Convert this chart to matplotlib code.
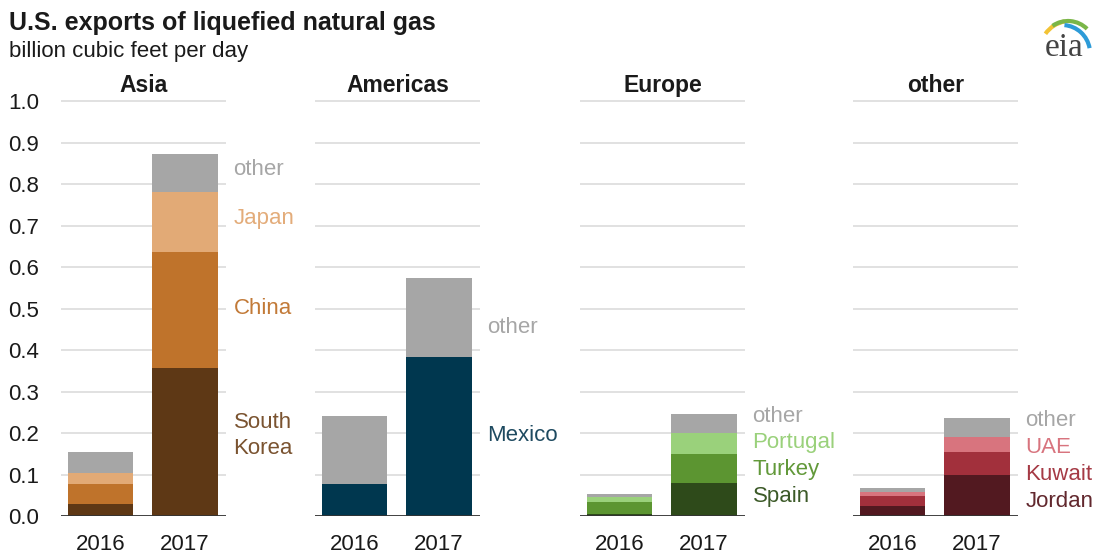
import matplotlib
matplotlib.use('Agg')
import matplotlib.pyplot as plt
from matplotlib.patches import Arc

plt.rcParams['font.family'] = ['Liberation Sans', 'DejaVu Sans']

years = ['2016', '2017']
regions = ['Asia', 'Americas', 'Europe', 'other']

# stacked segments, bottom to top, per region (2016, 2017)
asia_names = ['South\nKorea', 'China', 'Japan', 'other']
asia_vals = [[0.030, 0.357], [0.046, 0.279], [0.028, 0.145], [0.050, 0.092]]
asia_cols = ['#5e3815', '#bf732b', '#e2aa76', '#a6a6a6']
asia_txt = ['#7a5330', '#c27a38', '#e3ac7a', '#a6a6a6']

amer_names = ['Mexico', 'other']
amer_vals = [[0.076, 0.384], [0.166, 0.189]]
amer_cols = ['#00374f', '#a6a6a6']
amer_txt = ['#1e4a60', '#a6a6a6']

euro_names = ['Spain', 'Turkey', 'Portugal', 'other']
euro_vals = [[0.006, 0.080], [0.028, 0.069], [0.011, 0.050], [0.008, 0.047]]
euro_cols = ['#2e4a1a', '#5c9531', '#9ad17b', '#a6a6a6']
euro_txt = ['#3c5a28', '#62993a', '#9ad17b', '#a6a6a6']

oth_names = ['Jordan', 'Kuwait', 'UAE', 'other']
oth_vals = [[0.025, 0.099], [0.023, 0.056], [0.011, 0.036], [0.008, 0.046]]
oth_cols = ['#521920', '#a2303c', '#d8747e', '#a6a6a6']
oth_txt = ['#62282e', '#a53a45', '#d8747e', '#a6a6a6']

# label heights (centre of text) for each series label
asia_lab_y = [0.195, 0.50, 0.718, 0.834]
amer_lab_y = [0.193, 0.455]
euro_lab_y = [0.046, 0.111, 0.176, 0.241]
oth_lab_y = [0.036, 0.101, 0.166, 0.229]

panels = [
    (asia_names, asia_vals, asia_cols, asia_txt, asia_lab_y, 61),
    (amer_names, amer_vals, amer_cols, amer_txt, amer_lab_y, 315),
    (euro_names, euro_vals, euro_cols, euro_txt, euro_lab_y, 580),
    (oth_names, oth_vals, oth_cols, oth_txt, oth_lab_y, 853),
]

W, H = 1098, 553
fig = plt.figure(figsize=(W / 100, H / 100), dpi=100)

for i, (names, vals, cols, tcols, lab_y, left) in enumerate(panels):
    ax = fig.add_axes([left / W, (H - 516) / H, 165 / W, 417 / H])
    x = [0, 1]
    bottom = [0, 0]
    for v, c in zip(vals, cols):
        ax.bar(x, v, bottom=bottom, width=0.78, color=c, linewidth=0, zorder=2)
        bottom = [b + vv for b, vv in zip(bottom, v)]
    for name, c, ly in zip(names, tcols, lab_y):
        ax.text(1.58, ly, name, color=c, fontsize=16, va='center', ha='left',
                linespacing=1.32, clip_on=False)
    ax.set_xlim(-0.47, 1.49)
    ax.set_ylim(0, 1.005)
    ax.set_yticks([k / 10 for k in range(11)])
    ax.grid(axis='y', color='#dcdcdc', linewidth=1.2, zorder=0)
    ax.axhline(0, color='#333333', linewidth=2, zorder=3)
    for s in ax.spines.values():
        s.set_visible(False)
    ax.set_xticks(x)
    ax.set_xticklabels(years, fontsize=16, color='#1a1a1a')
    ax.tick_params(length=0, pad=13)
    if i == 0:
        ax.set_yticklabels(['%.1f' % (k / 10) for k in range(11)], fontsize=16,
                           color='#1a1a1a')
        ax.tick_params(axis='y', pad=16)
    else:
        ax.set_yticklabels([])
    ax.set_title(regions[i], fontsize=16.5, fontweight='bold', pad=5,
                 color='#1a1a1a')

fig.text(9 / W, 1 - 23 / H, 'U.S. exports of liquefied natural gas', fontsize=18,
         fontweight='bold', va='center', ha='left', color='#1a1a1a')
fig.text(9 / W, 1 - 52 / H, 'billion cubic feet per day', fontsize=16,
         va='center', ha='left', color='#1a1a1a')

# eia logo
lax = fig.add_axes([1030 / W, 1 - 65 / H, 68 / W, 60 / H])
lax.set_xlim(0, 68)
lax.set_ylim(0, 60)
lax.axis('off')
lax.text(34, 17, 'eia', family=['Liberation Serif', 'DejaVu Serif'], fontsize=24,
         color='#444444', ha='center', va='center')
lax.add_patch(Arc((40, 14), 60, 60, theta1=100, theta2=145, color='#f2c335', lw=3))
lax.add_patch(Arc((38, 17), 54, 54, theta1=45, theta2=125, color='#7ab648', lw=3))
lax.add_patch(Arc((32, 12), 56, 56, theta1=10, theta2=85, color='#2d9bd8', lw=3))

fig.savefig('out.png', dpi=100)
